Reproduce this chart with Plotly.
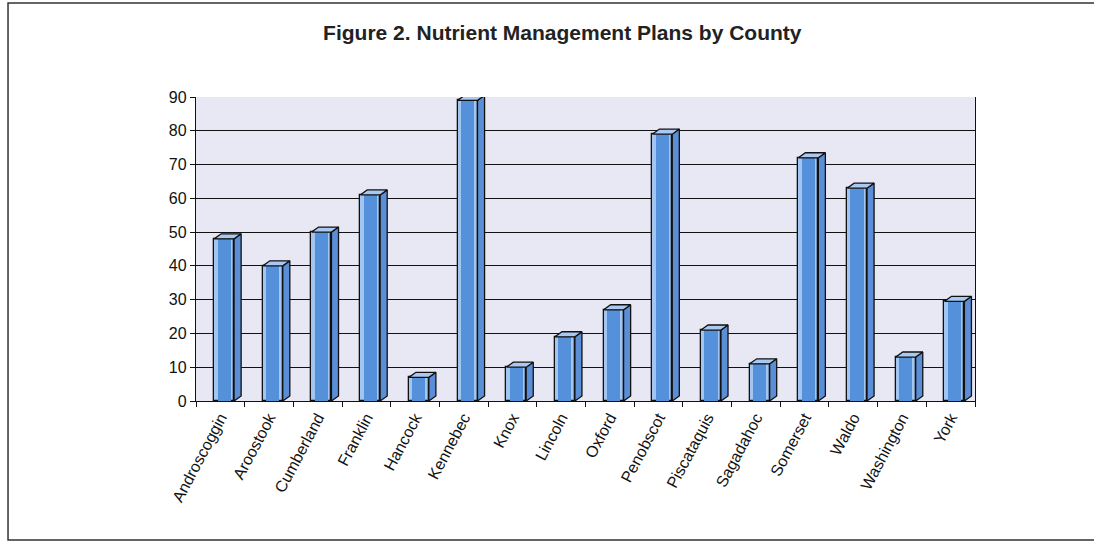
import plotly.graph_objects as go

counties = ["Androscoggin", "Aroostook", "Cumberland", "Franklin", "Hancock", "Kennebec",
            "Knox", "Lincoln", "Oxford", "Penobscot", "Piscataquis", "Sagadahoc",
            "Somerset", "Waldo", "Washington", "York"]
plans = [48, 40, 50, 61, 7, 89, 10, 19, 27, 79, 21, 11, 72, 63, 13, 29.5]
y_ticks = [0, 10, 20, 30, 40, 50, 60, 70, 80, 90]
title = "Figure 2. Nutrient Management Plans by County"

# 3D-look geometry (in axis units)
off = 0.077      # front-face centre offset from category centre
w = 0.41         # front-face width
dx = 0.145       # depth in x
dy = 1.5         # depth in y

idx = list(range(len(counties)))
front_x = [i + off for i in idx]

side_x, side_y, top_x, top_y = [], [], [], []
for i, v in zip(idx, plans):
    xl = i + off - w / 2
    xr = i + off + w / 2
    side_x += [xr, xr + dx, xr + dx, xr, xr, None]
    side_y += [0, dy, v + dy, v, 0, None]
    top_x += [xl, xl + dx, xr + dx, xr, xl, None]
    top_y += [v, v + dy, v + dy, v, v, None]

fig = go.Figure()
# front faces: light rim + darker core to imitate the shading
fig.add_trace(go.Bar(x=front_x, y=plans, width=w,
                     marker=dict(color="#a3c6f0", line=dict(color="#111111", width=1.3)),
                     hovertext=counties, showlegend=False))
fig.add_trace(go.Bar(x=front_x, y=plans, width=w * 0.66,
                     marker=dict(color="#5590da", line=dict(width=0)),
                     hoverinfo="skip", showlegend=False))
fig.add_trace(go.Scatter(x=side_x, y=side_y, mode="lines", fill="toself",
                         fillcolor="#5a8fd8", line=dict(color="#111111", width=1.3),
                         hoverinfo="skip", showlegend=False))
fig.add_trace(go.Scatter(x=top_x, y=top_y, mode="lines", fill="toself",
                         fillcolor="#a9c9f2", line=dict(color="#111111", width=1.3),
                         hoverinfo="skip", showlegend=False))

fig.update_layout(
    width=1094, height=543,
    margin=dict(l=196, r=119, t=97, b=142),
    paper_bgcolor="white",
    plot_bgcolor="#e8e8f4",
    font=dict(family="Liberation Sans, Arial, sans-serif", color="#111111", size=16),
    title=dict(text="<b>" + title + "</b>", x=0.514, xanchor="center", y=0.94, yanchor="middle",
               font=dict(size=21, color="#222222")),
    bargap=0, barmode="overlay",
)
fig.update_xaxes(
    range=[-0.5, len(counties) - 0.5],
    tickmode="array", tickvals=idx, ticktext=counties, tickangle=-62,
    ticks="", ticklen=0, showgrid=False, zeroline=False,
    showline=True, linecolor="#111111", linewidth=1.3, mirror=False,
    tickfont=dict(size=16),
    minor=dict(tickmode="linear", tick0=-0.5, dtick=1, ticks="outside", ticklen=5,
               tickcolor="#111111", showgrid=False),
)
fig.update_yaxes(
    range=[0, 90], tickmode="array", tickvals=y_ticks,
    ticks="outside", ticklen=5, tickcolor="#111111",
    showgrid=True, gridcolor="#111111", gridwidth=1,
    zeroline=False, showline=True, linecolor="#111111", linewidth=1.3, mirror=True,
    tickfont=dict(size=16),
)
# outer frame of the figure (right edge lies beyond the picture)
fig.add_shape(type="rect", xref="paper", yref="paper",
              x0=-0.2413, x1=1.6, y0=-0.457, y1=1.309,
              line=dict(color="#333333", width=1.5), fillcolor="rgba(0,0,0,0)", layer="below")

fig.write_html("out.html", config={"displayModeBar": False},
               post_script="document.body.style.margin='0';")
